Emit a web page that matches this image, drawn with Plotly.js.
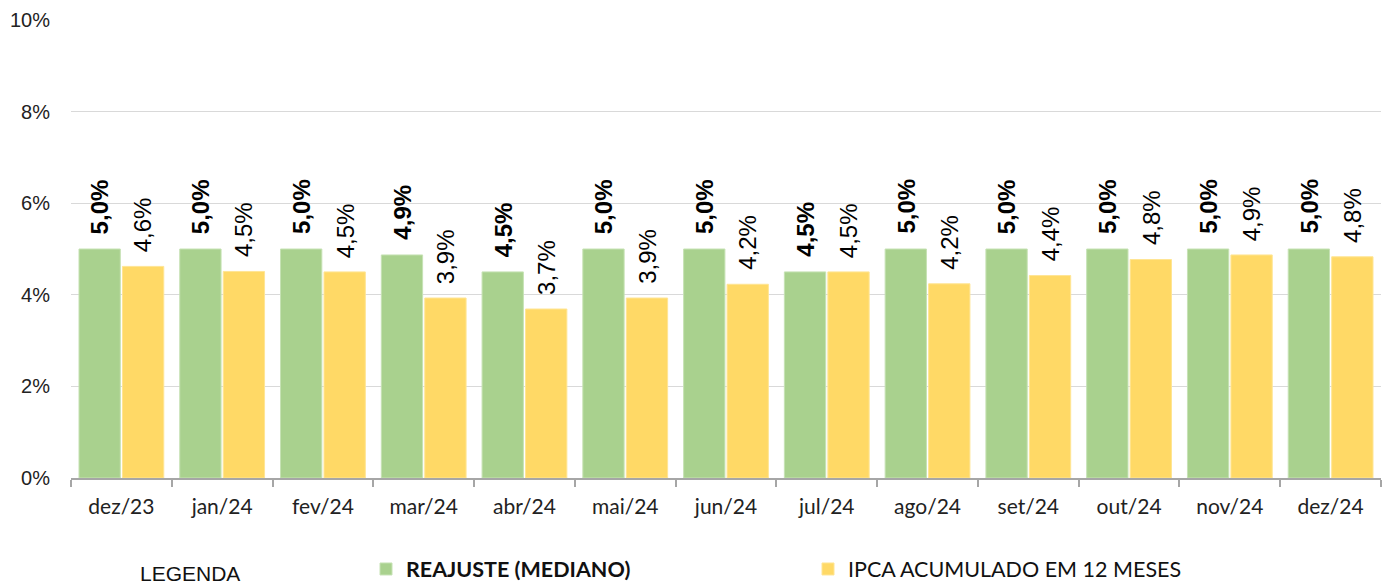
<!DOCTYPE html>
<html>
<head>
<meta charset="utf-8">
<script src="https://cdn.plot.ly/plotly-3.0.1.min.js"></script>
<style>html,body{margin:0;padding:0;background:#fff;}#chart{width:1388px;height:585px;}</style>
</head>
<body>
<div id="chart"></div>
<script>
const categories = ['dez/23','jan/24','fev/24','mar/24','abr/24','mai/24','jun/24','jul/24','ago/24','set/24','out/24','nov/24','dez/24'];
const reajuste = [5.0,5.0,5.0,4.87,4.5,5.0,5.0,4.5,5.0,5.0,5.0,5.0,5.0];
const ipca = [4.62,4.51,4.50,3.93,3.69,3.93,4.23,4.50,4.24,4.42,4.77,4.87,4.83];
const seriesNames = ['<b>REAJUSTE (MEDIANO)</b>','IPCA ACUMULADO EM 12 MESES'];
const yTicks = [0,2,4,6,8,10];
const yTickText = yTicks.map(v => v + '%');

const GREEN = '#A9D18E', YELLOW = '#FFD966';
const fmt = v => v.toFixed(1).replace('.', ',') + '%';

const traces = [
  {type:'bar', x:categories, y:reajuste, name:seriesNames[0],
   marker:{color:GREEN, line:{color:'#c6e2b4', width:1}}, hoverinfo:'y'},
  {type:'bar', x:categories, y:ipca, name:seriesNames[1],
   marker:{color:YELLOW, line:{color:'#ffe594', width:1}}, hoverinfo:'y'}
];

const annotations = [];
categories.forEach((c,i)=>{
  annotations.push({x:c, y:reajuste[i], xref:'x', yref:'y', text:'<b>'+fmt(reajuste[i])+'</b>',
    textangle:-90, showarrow:false, xanchor:'center', yanchor:'bottom', xshift:-21.5, yshift:13,
    font:{family:'Liberation Sans, Arial, sans-serif', size:24, color:'#000'}});
  annotations.push({x:c, y:ipca[i], xref:'x', yref:'y', text:fmt(ipca[i]),
    textangle:-90, showarrow:false, xanchor:'center', yanchor:'bottom', xshift:22, yshift:12,
    font:{family:'Liberation Sans, Arial, sans-serif', size:24, color:'#000'}});
});
annotations.push({xref:'paper', yref:'paper', x:(190-71)/1310, y:(478-573)/458, xanchor:'center', yanchor:'middle',
  text:'LEGENDA', showarrow:false, font:{family:'Liberation Sans Narrow, Liberation Sans, Arial', size:21, color:'#111'}});

const layout = {
  width:1388, height:585,
  margin:{l:71, r:7, t:20, b:107, autoexpand:false},
  paper_bgcolor:'#fff', plot_bgcolor:'#fff',
  barmode:'group', bargap:0.137, bargroupgap:0.05,
  xaxis:{type:'category', categoryarray:categories, categoryorder:'array',
    tickson:'boundaries', ticks:'outside', ticklen:7, tickcolor:'#a6a6a6', tickwidth:1.5,
    showline:true, linecolor:'#a6a6a6', linewidth:1.5, showgrid:false,
    tickfont:{family:'Lato, sans-serif', size:21, color:'#222'}, ticklabelstandoff:9, fixedrange:true},
  xaxis2:{overlaying:'x', anchor:'y', range:[-0.5,12.5], tickmode:'linear', tick0:-0.5, dtick:1,
    ticks:'inside', ticklen:6, tickcolor:'#a6a6a6', tickwidth:1.5, showticklabels:false,
    showgrid:false, showline:false, zeroline:false},
  yaxis:{range:[0,10], tickmode:'array', tickvals:yTicks, ticktext:yTickText, showline:false, zeroline:false,
    gridcolor:'#d9d9d9', gridwidth:1, ticks:'', ticklabelstandoff:20,
    tickfont:{family:'Liberation Sans, Arial, sans-serif', size:20, color:'#222'}},
  showlegend:true,
  legend:{orientation:'h', x:(366-71)/1310, xanchor:'left', y:(478-569)/458, yanchor:'middle',
    entrywidth:397, entrywidthmode:'pixels',
    font:{family:'Lato, sans-serif', size:21.5, color:'#111'}, bgcolor:'rgba(0,0,0,0)'},
  annotations:annotations
};

Plotly.newPlot('chart', traces, layout, {displayModeBar:false});
</script>
</body>
</html>
